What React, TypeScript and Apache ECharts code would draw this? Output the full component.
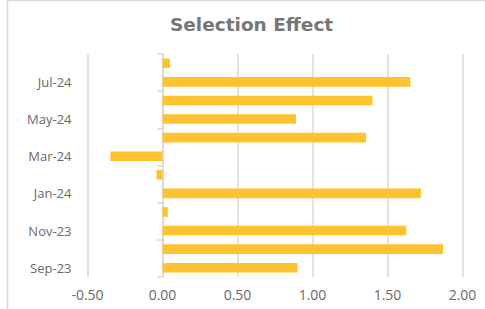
import React, { useEffect, useRef } from "react";
import * as echarts from "echarts";

const categories = ["Sep-23", "Oct-23", "Nov-23", "Dec-23", "Jan-24", "Feb-24", "Mar-24", "Apr-24", "May-24", "Jun-24", "Jul-24", "Aug-24"];
const selectionEffect = [0.9, 1.87, 1.625, 0.035, 1.723, -0.04, -0.348, 1.357, 0.89, 1.4, 1.652, 0.05];
const xTicks = { min: -0.5, max: 2.0, interval: 0.5 };

export default function App() {
  const ref = useRef<HTMLDivElement>(null);
  useEffect(() => {
    if (!ref.current) return;
    const chart = echarts.init(ref.current, null, { renderer: "svg" });
    const font = "'Open Sans', 'Noto Sans', sans-serif";
    chart.setOption({
      animation: false,
      backgroundColor: "#ffffff",
      title: {
        text: "Selection Effect",
        left: 165,
        top: 10,
        textStyle: { fontFamily: "'DejaVu Sans', sans-serif", fontSize: 18.5, fontWeight: "bold", color: "#767676" },
      },
      graphic: [
        {
          type: "rect",
          shape: { x: 7.5, y: 0.5, width: 500, height: 340 },
          style: { fill: "none", stroke: "#d9d9d9", lineWidth: 1.5 },
          silent: true,
        },
      ],
      grid: { left: 87.5, right: 22.5, top: 54, bottom: 32, containLabel: false },
      xAxis: {
        type: "value",
        min: xTicks.min,
        max: xTicks.max,
        interval: xTicks.interval,
        axisLine: { show: false },
        axisTick: { show: false },
        axisLabel: {
          formatter: (v: number) => v.toFixed(2),
          fontFamily: font,
          fontSize: 14,
          color: "#6a6a6a",
          margin: 10,
        },
        splitLine: { show: true, lineStyle: { color: "#d9d9d9", width: 1.5 } },
      },
      yAxis: [
        {
          type: "category",
          data: categories,
          position: "left",
          axisLine: { show: false, onZero: false },
          axisTick: { show: false },
          axisLabel: {
            interval: 1,
            fontFamily: font,
            fontSize: 13,
            color: "#6a6a6a",
            margin: 16,
          },
          splitLine: { show: false },
        },
        {
          type: "category",
          data: categories,
          position: "left",
          axisLine: { show: true, onZero: true, lineStyle: { color: "#d9d9d9", width: 1.5 } },
          axisTick: { show: true, interval: 1, length: 5, lineStyle: { color: "#d9d9d9", width: 1.5 } },
          axisLabel: { show: false },
          splitLine: { show: false },
        },
      ],
      series: [
        {
          type: "bar",
          data: selectionEffect,
          yAxisIndex: 0,
          barCategoryGap: "48%",
          itemStyle: { color: "#FFC230" },
        },
      ],
    });
    return () => chart.dispose();
  }, []);
  return <div ref={ref} style={{ position: "fixed", left: 0, top: 0, width: 485, height: 309 }} />;
}
